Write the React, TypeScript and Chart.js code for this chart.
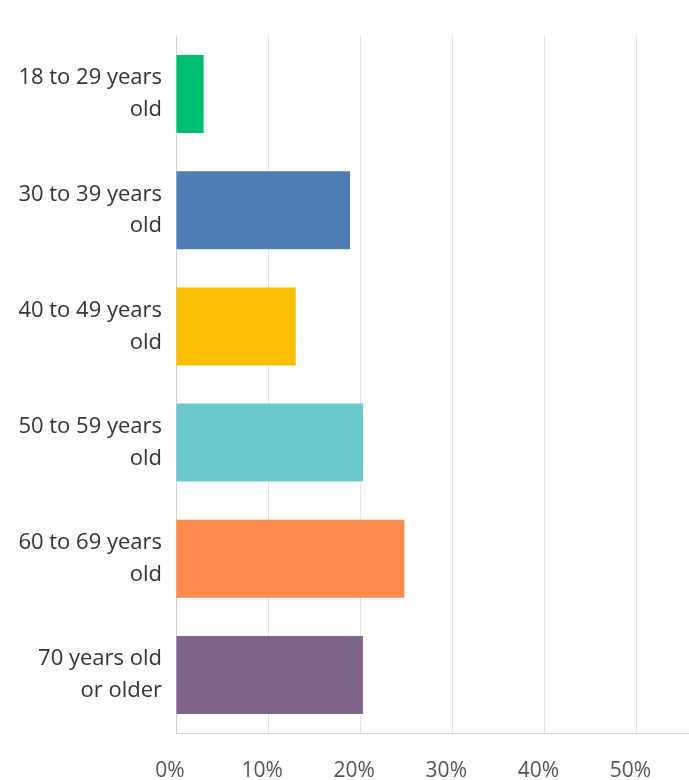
import React, { useEffect, useRef } from "react";
import { Chart, registerables } from "chart.js";

Chart.register(...registerables);

const categories: string[][] = [
  ["18 to 29 years", "old"],
  ["30 to 39 years", "old"],
  ["40 to 49 years", "old"],
  ["50 to 59 years", "old"],
  ["60 to 69 years", "old"],
  ["70 years old", "or older"],
];
const values: number[] = [3.0, 18.9, 13.0, 20.3, 24.8, 20.3];
const barColors: string[] = ["#00BF6F", "#507CB6", "#F9BE00", "#6BC8CD", "#FF8B4F", "#7F658A"];
const xTicks: number[] = [0, 10, 20, 30, 40, 50];

export default function App() {
  const ref = useRef<HTMLCanvasElement | null>(null);

  useEffect(() => {
    document.body.style.margin = "0";
    const canvas = ref.current;
    if (!canvas) return;
    const chart = new Chart(canvas, {
      type: "bar",
      data: {
        labels: categories,
        datasets: [
          {
            data: values,
            backgroundColor: barColors,
            borderWidth: 0,
            barPercentage: 0.672,
            categoryPercentage: 1,
          },
        ],
      },
      options: {
        indexAxis: "y",
        animation: false,
        responsive: false,
        maintainAspectRatio: false,
        layout: { padding: { top: 36, right: 0, left: 0, bottom: 0 } },
        plugins: { legend: { display: false }, tooltip: { enabled: false } },
        scales: {
          x: {
            min: 0,
            max: 55.7,
            afterBuildTicks: (scale: any) => {
              scale.ticks = xTicks.map((v) => ({ value: v }));
            },
            afterFit: (scale: any) => {
              scale.height = 47;
              scale.paddingRight = 0;
            },
            grid: { color: "#e4e4e4", drawTicks: false, lineWidth: 1 },
            border: { display: true, color: "#d6d6d6" },
            ticks: {
              padding: 25,
              color: "#555555",
              labelOffset: -6,
              font: { family: "'Open Sans'", size: 21 },
              callback: (v: any) => v + "%",
            },
          },
          y: {
            afterFit: (scale: any) => {
              scale.width = 176;
              scale.paddingTop = 0;
              scale.paddingBottom = 0;
            },
            grid: { display: false, drawTicks: false },
            border: { display: true, color: "#cfcfcf" },
            ticks: {
              padding: 14,
              color: "#333333",
              font: { family: "'Open Sans'", size: 22, lineHeight: 1.45 },
            },
          },
        },
      },
    });
    return () => chart.destroy();
  }, []);

  return <canvas ref={ref} width={689} height={780} style={{ display: "block", width: 689, height: 780 }} />;
}
